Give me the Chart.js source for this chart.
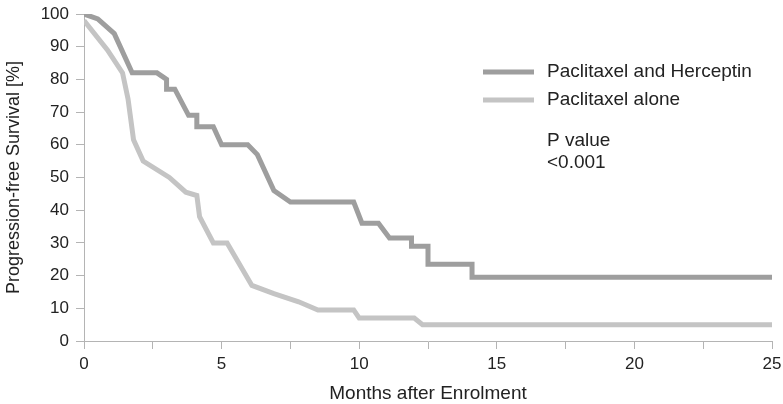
<!DOCTYPE html>
<html>
<head>
<meta charset="utf-8">
<script src="https://cdn.jsdelivr.net/npm/chart.js@4"></script>
<style>
  html, body { margin: 0; padding: 0; background: #fff; }
  #wrap { width: 783px; height: 404px; }
</style>
</head>
<body>
<div id="wrap"><canvas id="km"></canvas></div>
<script>
// Kaplan-Meier curves (months, % progression-free)
const herceptinMonths   = [0, 0.5, 1.1, 1.75, 2.65, 3.0, 3.0, 3.3, 3.8, 4.1, 4.1, 4.7, 5.0, 5.95, 6.3, 6.9, 7.5, 9.8, 10.1, 10.7, 11.1, 11.9, 11.9, 12.5, 12.5, 14.1, 14.1, 25];
const herceptinSurvival = [100, 98.5, 94, 82, 82, 80, 77, 77, 69, 69, 65.5, 65.5, 60, 60, 57, 46, 42.5, 42.5, 36, 36, 31.5, 31.5, 29, 29, 23.5, 23.5, 19.5, 19.5];

const aloneMonths   = [0, 0.85, 1.4, 1.6, 1.8, 2.15, 3.1, 3.7, 4.1, 4.2, 4.7, 5.2, 6.1, 6.9, 7.8, 8.5, 9.8, 10.0, 12.0, 12.3, 25];
const aloneSurvival = [98, 89, 82, 74, 61.5, 55, 50, 45.5, 44.5, 38, 30, 30, 17, 14.5, 12, 9.5, 9.5, 7, 7, 5, 5];

const seriesNames = ["Paclitaxel and Herceptin", "Paclitaxel alone"];
const pValueLines = ["P value", "<0.001"];
const xTicks = [0, 5, 10, 15, 20, 25];

const toPoints = (xs, ys) => xs.map((x, i) => ({ x: x, y: ys[i] }));

const axisGray = "#b4b4b4";
const textColor = "#222";
const fontFamily = "'Liberation Sans', Arial, sans-serif";

// legend + p value drawn inside the plot, top right
const legendBox = {
  id: "legendBox",
  afterDraw(chart) {
    const ctx = chart.ctx;
    const x0 = 483, lineLen = 51, textX = 547;
    const rows = [72, 100];
    ctx.save();
    ctx.font = "19px " + fontFamily;
    ctx.textBaseline = "middle";
    chart.data.datasets.forEach((ds, i) => {
      ctx.strokeStyle = ds.borderColor;
      ctx.lineWidth = 5;
      ctx.beginPath();
      ctx.moveTo(x0, rows[i]);
      ctx.lineTo(x0 + lineLen, rows[i]);
      ctx.stroke();
      ctx.fillStyle = textColor;
      ctx.fillText(ds.label, textX, rows[i]);
    });
    pValueLines.forEach((t, i) => {
      ctx.fillText(t, textX, 141 + i * 22);
    });
    ctx.restore();
  }
};

new Chart(document.getElementById("km"), {
  type: "line",
  data: {
    datasets: [
      {
        label: seriesNames[0],
        data: toPoints(herceptinMonths, herceptinSurvival),
        borderColor: "rgb(158,158,158)",
        borderWidth: 5,
        pointRadius: 0,
        tension: 0,
        borderJoinStyle: "miter"
      },
      {
        label: seriesNames[1],
        data: toPoints(aloneMonths, aloneSurvival),
        borderColor: "rgb(196,196,196)",
        borderWidth: 5,
        pointRadius: 0,
        tension: 0,
        borderJoinStyle: "miter"
      }
    ]
  },
  options: {
    responsive: true,
    maintainAspectRatio: false,
    animation: false,
    layout: { padding: { top: 0, right: 0, left: 2, bottom: 0 } },
    plugins: {
      legend: { display: false },
      tooltip: { enabled: false }
    },
    scales: {
      x: {
        type: "linear",
        min: 0,
        max: 25,
        afterFit: (scale) => {
          scale.height = 63;
          scale.paddingRight = 11;
          scale.paddingLeft = 0;
        },
        ticks: {
          stepSize: 2.5,
          autoSkip: false,
          maxRotation: 0,
          color: textColor,
          font: { size: 17, family: fontFamily },
          padding: 5,
          callback: (v) => (xTicks.includes(v) ? v : "")
        },
        grid: { drawOnChartArea: false, drawTicks: true, tickLength: 8, color: axisGray },
        border: { color: axisGray, width: 1 },
        title: {
          display: true,
          text: "Months after Enrolment",
          color: textColor,
          font: { size: 19, family: fontFamily, lineHeight: 1 },
          padding: { top: 0, bottom: 1 }
        }
      },
      y: {
        min: 0,
        max: 100,
        afterFit: (scale) => {
          scale.width = 82;
          scale.paddingTop = 14;
          scale.paddingBottom = 0;
        },
        ticks: {
          stepSize: 10,
          color: textColor,
          font: { size: 17, family: fontFamily },
          padding: 7
        },
        grid: { drawOnChartArea: false, drawTicks: true, tickLength: 8, color: axisGray },
        border: { color: axisGray, width: 1 },
        title: {
          display: true,
          text: "Progression-free Survival [%]",
          color: textColor,
          font: { size: 18, family: fontFamily },
          padding: { top: 1, bottom: 9 }
        }
      }
    }
  },
  plugins: [legendBox]
});
</script>
</body>
</html>
